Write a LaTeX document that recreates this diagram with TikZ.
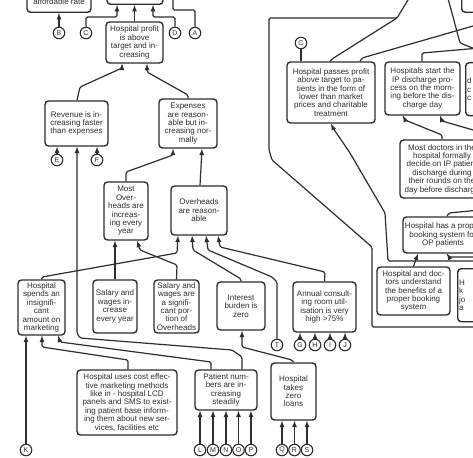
\documentclass[tikz,border=0pt]{standalone}
\usepackage{fontspec}
\setmainfont{Liberation Sans}
\usepackage{tikz}
\definecolor{ink}{HTML}{2E2E2E}
\newcommand\boxfont{\fontsize{8}{8.4}\selectfont}
\newcommand\reffont{\fontsize{7}{7}\selectfont}

\begin{document}
\begin{tikzpicture}[x=1pt,y=1pt]
\tikzstyle{goal}=[draw=ink,fill=white,line width=1.4pt,rounded corners=3.5pt,align=center,inner sep=1.5pt,font=\boxfont,text=ink]
\tikzstyle{ref}=[draw=ink,fill=white,circle,line width=1.1pt,minimum size=11.5pt,inner sep=0pt,font=\reffont,text=ink]
\tikzstyle{link}=[draw=ink,line width=1.2pt,rounded corners=1.5pt,-latex]
\tikzstyle{wire}=[draw=ink,line width=1.2pt,rounded corners=1.5pt]
\useasboundingbox (0,0) rectangle (473,-457);
\clip (0,0) rectangle (473,-457);
\fill[white] (0,0) rectangle (473,-457);
\node[goal,anchor=south,minimum width=64pt,text height=30pt,text depth=6.5pt] (afford) at (59,-13) {affordable rate};
\node[goal,anchor=south,minimum width=56pt,minimum height=30pt] (topc) at (135,-5) {};
\node[goal,anchor=south west,minimum width=40pt,minimum height=30pt] (topr) at (461,-13) {};
\node[goal,minimum width=57pt,minimum height=41pt] (profit) at (134.5,-42.5) {Hospital profit\\is above\\target and in-\\creasing};
\node[goal,minimum width=63pt,minimum height=45pt] (revenue) at (76.5,-123.5) {Revenue is in-\\creasing faster\\than expenses};
\node[goal,minimum width=58pt,minimum height=49pt] (expenses) at (188,-123.5) {Expenses\\are reason-\\able but in-\\creasing nor-\\mally};
\node[goal,minimum width=44pt,minimum height=58pt] (mostover) at (126,-211) {Most\\Over-\\heads are\\increas-\\ing every\\year};
\node[goal,minimum width=56pt,minimum height=49pt] (overheads) at (199,-210.5) {Overheads\\are reason-\\able};
\node[goal,minimum width=47pt,minimum height=55pt] (spends) at (41.5,-307.5) {Hospital\\spends an\\insignifi-\\cant\\amount on\\marketing};
\node[goal,minimum width=44pt,minimum height=53pt] (salinc) at (115,-306.5) {Salary and\\wages in-\\crease\\every year};
\node[goal,minimum width=45pt,minimum height=53pt] (salsig) at (176.5,-306.5) {Salary and\\wages are\\a signifi-\\cant por-\\tion of\\Overheads};
\node[goal,minimum width=48pt,minimum height=48pt] (interest) at (241,-306) {Interest\\burden is\\zero};
\node[goal,minimum width=63pt,minimum height=50pt] (annual) at (324.5,-307) {Annual consult-\\ing room util-\\isation is very\\high >75\%};
\node[goal,minimum width=100pt,minimum height=65pt] (costeff) at (127,-402.5) {Hospital uses cost effec-\\tive marketing methods\\like in - hospital LCD\\panels and SMS to exist-\\ing patient base inform-\\ing them about new ser-\\vices, facilities etc};
\node[goal,minimum width=62pt,minimum height=40pt] (patient) at (226,-390) {Patient num-\\bers are in-\\creasing\\steadily};
\node[goal,minimum width=45pt,minimum height=57pt] (loans) at (293.5,-391.5) {Hospital\\takes\\zero\\loans};
\node[goal,minimum width=88pt,minimum height=61pt] (passes) at (331,-92.5) {Hospital passes profit\\above target to pa-\\tients in the form of\\lower than market\\prices and charitable\\treatment};
\node[goal,minimum width=75pt,minimum height=53pt] (ipstart) at (422.5,-88.5) {Hospitals start the\\IP discharge pro-\\cess on the morn-\\ing before the dis-\\charge day};
\node[goal,anchor=north west,text width=50pt,align=left,minimum height=53pt] (ipright) at (465,-62) {d\\c\\c};
\node[goal,minimum width=84pt,minimum height=58pt] (doctors) at (442,-169) {Most doctors in the\\hospital formally\\decide on IP patient\\discharge during\\their rounds on the\\day before discharge};
\node[goal,minimum width=80pt,minimum height=36pt] (booking) at (443,-235) {Hospital has a proper\\booking system for\\OP patients};
\node[goal,minimum width=73pt,minimum height=48pt] (understand) at (413.5,-291) {Hospital and doc-\\tors understand\\the benefits of a\\proper booking\\system};
\node[goal,anchor=north west,text width=50pt,align=left,minimum height=53pt] (urright) at (457,-268) {H\\k\\jo\\a};
\node[ref] (B) at (59,-33) {B};
\node[ref] (C) at (86,-33) {C};
\node[ref] (D) at (175,-33) {D};
\node[ref] (A) at (195,-33) {A};
\node[ref] (E) at (57,-160) {E};
\node[ref] (F) at (97,-160) {F};
\node[ref] (Cr) at (301,-43) {C};
\node[ref] (T) at (277,-345) {T};
\node[ref] (G) at (300,-345) {G};
\node[ref] (H) at (315,-345) {H};
\node[ref] (I) at (330,-345) {I};
\node[ref] (J) at (345,-345) {J};
\node[ref] (K) at (26,-450) {K};
\node[ref] (L) at (200,-450) {L};
\node[ref] (M) at (213,-450) {M};
\node[ref] (N) at (226,-450) {N};
\node[ref] (O) at (238.5,-450) {O};
\node[ref] (P) at (251,-450) {P};
\node[ref] (Q) at (282,-450) {Q};
\node[ref] (R) at (294.5,-450) {R};
\node[ref] (S) at (307,-450) {S};
\coordinate (upA) at (173,5);
\coordinate (merge) at (397,-18);
\coordinate (upL1) at (411,5);
\coordinate (outL2) at (480,-24);
\coordinate (outFrame) at (480,-327);
\coordinate (outIPtop) at (480,-48);
\coordinate (inTop) at (447,5);
\coordinate (outTop) at (480,-51);
\coordinate (outIPlow) at (480,-132);
\coordinate (outL4) at (480,-261);
\coordinate (outBk) at (480,-257);
\coordinate (outBkTop) at (480,-210);
\draw[link] (B) -- (afford.south -| B);
\draw[link] (C) |- (117,-17) -- (topc.south -| 117,0);
\draw[link] (profit.north) -- (topc.south -| profit.north);
\draw[link] (D) |- (153,-17) -- (topc.south -| 153,0);
\draw[wire] (A) |- (173,-10) -- (upA);
\draw[link] (revenue.north -| 77,0) -- (80,-87) -- (122,-68) -- (profit.south -| 122,0);
\draw[link] (expenses.north) -- (188,-95) -- (147,-72) -- (profit.south -| 147,0);
\draw[link] (E) -- (revenue.south -| E);
\draw[link] (F) -- (revenue.south -| F);
\draw[link] (patient.north -| 242,0) -- (242,-357) -- (232,-350) -- (80,-338) -- (77,-333) -- (revenue.south -| 77,0);
\draw[link] (mostover.north) -- (126,-172) -- (173,-155) -- (expenses.south -| 173,0);
\draw[link] (overheads.north -| 200,0) -- (expenses.south -| 202,0);
\draw[link] (salinc.north) -- (mostover.south -| salinc.north);
\draw[link] (salsig.north) -- (177,-265) -- (140,-250) -- (mostover.south -| 137,0);
\draw[link] (spends.north) -- (42,-277) -- (177,-253) -- (overheads.south -| 178,0);
\draw[link] (interest.north) -- (241,-279) -- (193,-250) -- (overheads.south -| 192,0);
\draw[link] (T) -- (277,-282) -- (272,-277) -- (208,-250) -- (overheads.south -| 206,0);
\draw[link] (annual.north) -- (325,-272) -- (220,-247) -- (overheads.south -| 218,0);
\draw[link] (G) -- (annual.south -| G);
\draw[link] (H) -- (annual.south -| H);
\draw[link] (I) -- (annual.south -| I);
\draw[link] (J) -- (annual.south -| J);
\draw[link] (loans.north) -- (292,-360) -- (242,-347) -- (interest.south -| 242,0);
\draw[link] (Q) -- (loans.south -| Q);
\draw[link] (R) -- (loans.south -| R);
\draw[link] (S) -- (loans.south -| S);
\draw[link] (L) -- (patient.south -| L);
\draw[link] (M) -- (patient.south -| M);
\draw[link] (N) -- (patient.south -| N);
\draw[link] (O) -- (patient.south -| O);
\draw[link] (P) -- (patient.south -| P);
\draw[link] (K) -- (spends.south -| K);
\draw[link] (costeff.north -| 128,0) -- (128,-360) -- (42,-347) -- (spends.south -| 42,0);
\draw[link] (patient.north -| 211,0) -- (211,-362) -- (60,-342) -- (spends.south -| 58,0);
\draw[wire] (passes.north -| Cr) -- (Cr);
\draw[wire] (passes.north -| 330,0) -- (332,-59) -- (merge) -- (upL1);
\draw[wire] (passes.north -| 360,0) -- (362,-58) -- (outL2);
\draw[wire] (outFrame) -- (372,-327) -- (372,-247) -- (272,-160) -- (269,-150) -- (269,-18) -- (merge);
\draw[wire] (ipstart.north -| 422,0) -- (422,-53) -- (outIPtop);
\draw[wire] (inTop) -- (452,-13) -- (460,-43) -- (outTop);
\draw[link] (doctors.north) -- (442,-135) -- (405,-120) -- (ipstart.south -| 403,0);
\draw[link] (outIPlow) -- (442,-121) -- (ipstart.south -| 440,0);
\draw[link] (outL4) -- (388,-261) -- (385,-213) -- (350,-153) -- (333,-128) -- (passes.south -| 331,0);
\draw[link] (outBk) -- (449,-257) -- (booking.south -| 447,0);
\draw[wire] (booking.north -| 447,0) -- (449,-213) -- (outBkTop);
\draw[link] (understand.north) -- (booking.south -| 418,0);
\end{tikzpicture}
\end{document}
